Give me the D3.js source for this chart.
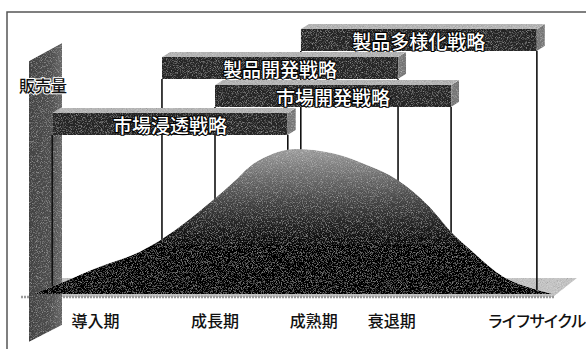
<!DOCTYPE html>
<html>
<head>
<meta charset="utf-8">
<script src="https://cdn.jsdelivr.net/npm/d3@7.8.5/dist/d3.min.js"></script>
<style>
  html, body { margin: 0; padding: 0; background: #fff; }
  svg { display: block; font-family: "Noto Sans CJK JP", sans-serif; }
</style>
</head>
<body>
<div id="chart"></div>
<script>
// Life cycle stages (x positions on a 0-100 life cycle axis)
const stages = ['導入期', '成長期', '成熟期', '衰退期', 'ライフサイクル'];
const stagePos = [12, 35, 54, 69, 96.7];

// Strategy bands: start / end on the life cycle axis, and stacking level
const strategies = ['市場浸透戦略', '製品開発戦略', '市場開発戦略', '製品多様化戦略'];
const strategyStart = [3.7, 24.8, 35, 51.5];
const strategyEnd = [49, 70.2, 80.4, 96.9];
const strategyLevel = [1, 3, 2, 4];

// Sales curve
const curveX = [0, 5.6, 12.9, 19.2, 24.8, 35, 38.5, 41.7, 45, 50.4, 57.7, 64.2, 70, 76.3, 80.4, 84, 90.4, 96.9, 100];
const curveSales = [0, 8, 19, 27, 38, 66, 77, 88, 95, 100, 97, 89, 79, 60, 43, 31, 12, 3, 0];

const yLabel = '販売量';

class LifeCycleChart {
    constructor(containerId) {
        this.container = d3.select(`#${containerId}`);
        this.width = 586;
        this.height = 349;
        this.boxH = 22;
        this.depth = { dx: 8, dy: 5 };
        this.init();
    }

    init() {
        const svg = this.container.append('svg')
            .attr('width', this.width)
            .attr('height', this.height);
        this.svg = svg;

        const x = d3.scaleLinear().domain([0, 100]).range([33, 553]);
        const y = d3.scaleLinear().domain([0, 100]).range([294, 149]);
        const level = d3.scaleLinear().domain([1, 4]).range([113, 29]);

        this.defs(svg);

        // Frame
        svg.append('path')
            .attr('d', `M7,${this.height} V12 H${this.width}`)
            .style('fill', 'none')
            .style('stroke', '#555')
            .style('stroke-width', 1.5);

        // Floor
        const x0 = x.range()[0] - 4, x1 = x.range()[1];
        svg.append('polygon')
            .attr('points', [[x0, 297], [x1, 297], [x1 + 24, 278], [x0 + 33, 278]].join(' '))
            .style('fill', '#c4c4c4')
            .attr('filter', 'url(#grain)');
        svg.append('line')
            .attr('x1', x0 - 8).attr('x2', x1 + 2)
            .attr('y1', 297).attr('y2', 297)
            .style('stroke', '#9a9a9a')
            .style('stroke-width', 2.5)
            .style('stroke-dasharray', '2,1');

        // Sales axis wall
        svg.append('polygon')
            .attr('points', [[x0, 61], [x0 + 33, 43], [x0 + 33, 325], [x0, 342]].join(' '))
            .style('fill', 'url(#wallGrad)')
            .attr('filter', 'url(#grain)');

        svg.append('text')
            .attr('x', 43).attr('y', 85)
            .attr('text-anchor', 'middle')
            .attr('dominant-baseline', 'central')
            .style('font-size', '16px')
            .style('font-weight', 500)
            .style('fill', '#111')
            .style('stroke', '#fff')
            .style('stroke-width', 2)
            .style('paint-order', 'stroke')
            .text(yLabel);

        // Drop lines from strategy bands
        const bands = strategies.map((name, i) => ({
            name, start: strategyStart[i], end: strategyEnd[i], level: strategyLevel[i]
        }));
        bands.forEach(b => {
            [b.start, b.end].forEach(v => {
                svg.append('line')
                    .attr('x1', x(v)).attr('x2', x(v))
                    .attr('y1', level(b.level) + this.boxH)
                    .attr('y2', y(0) - 1)
                    .style('stroke', '#111')
                    .style('stroke-width', 1.6);
            });
        });

        // Sales curve
        const pts = curveX.map((d, i) => [d, curveSales[i]]);
        const area = d3.area()
            .x(d => x(d[0]))
            .y0(y(0))
            .y1(d => y(d[1]))
            .curve(d3.curveMonotoneX);
        svg.append('path')
            .datum(pts)
            .attr('d', area)
            .style('fill', 'url(#curveGrad)')
            .attr('filter', 'url(#grain)');

        // Strategy boxes, back to front
        const { dx, dy } = this.depth;
        const order = bands.slice().sort((a, b) => b.level - a.level);
        order.forEach(b => {
            const xa = x(b.start), xb = x(b.end);
            const top = level(b.level), bot = top + this.boxH;
            const g = svg.append('g');
            g.append('polygon')
                .attr('points', [[xa, top], [xa + dx, top - dy], [xb + dx, top - dy], [xb, top]].join(' '))
                .style('fill', '#b5b5b5')
                .attr('filter', 'url(#grain)');
            g.append('polygon')
                .attr('points', [[xb, top], [xb + dx, top - dy], [xb + dx, bot - dy], [xb, bot]].join(' '))
                .style('fill', '#7a7a7a')
                .attr('filter', 'url(#grain)');
            g.append('rect')
                .attr('x', xa).attr('y', top)
                .attr('width', xb - xa).attr('height', this.boxH)
                .style('fill', '#262626')
                .attr('filter', 'url(#grain)');
            g.append('text')
                .attr('x', (xa + xb) / 2)
                .attr('y', top + this.boxH / 2)
                .attr('text-anchor', 'middle')
                .attr('dominant-baseline', 'central')
                .style('font-size', '19px')
                .style('font-weight', 500)
                .style('fill', '#fff')
                .style('stroke', '#000')
                .style('stroke-width', 2)
                .style('paint-order', 'stroke')
                .text(b.name);
        });

        // Stage labels
        svg.selectAll('.stage')
            .data(stages)
            .enter()
            .append('text')
            .attr('class', 'stage')
            .attr('x', (d, i) => x(stagePos[i]))
            .attr('y', 320)
            .attr('text-anchor', 'middle')
            .attr('dominant-baseline', 'central')
            .style('font-size', '16px')
            .style('font-weight', 500)
            .style('letter-spacing', d => d.length > 3 ? '-2px' : '0px')
            .style('fill', '#111')
            .text(d => d);
    }

    defs(svg) {
        const defs = svg.append('defs');

        const cg = defs.append('linearGradient')
            .attr('id', 'curveGrad')
            .attr('gradientUnits', 'userSpaceOnUse')
            .attr('x1', 0).attr('x2', 0)
            .attr('y1', 149).attr('y2', 270);
        cg.append('stop').attr('offset', 0).attr('stop-color', '#a0a0a0');
        cg.append('stop').attr('offset', 0.45).attr('stop-color', '#444');
        cg.append('stop').attr('offset', 0.8).attr('stop-color', '#050505');
        cg.append('stop').attr('offset', 1).attr('stop-color', '#000');

        const wg = defs.append('linearGradient')
            .attr('id', 'wallGrad')
            .attr('x1', 0).attr('x2', 1).attr('y1', 0).attr('y2', 0);
        wg.append('stop').attr('offset', 0).attr('stop-color', '#444');
        wg.append('stop').attr('offset', 0.65).attr('stop-color', '#505050');
        wg.append('stop').attr('offset', 1).attr('stop-color', '#6a6a6a');

        // Halftone-like grain
        const f = defs.append('filter')
            .attr('id', 'grain')
            .attr('x', 0).attr('y', 0).attr('width', 1).attr('height', 1);
        f.append('feTurbulence')
            .attr('type', 'fractalNoise')
            .attr('baseFrequency', 1.2)
            .attr('numOctaves', 1)
            .attr('seed', 4)
            .attr('result', 'noise');
        f.append('feColorMatrix')
            .attr('in', 'noise')
            .attr('type', 'saturate')
            .attr('values', 0)
            .attr('result', 'gray');
        f.append('feBlend')
            .attr('in', 'SourceGraphic')
            .attr('in2', 'gray')
            .attr('mode', 'overlay')
            .attr('result', 'mix');
        f.append('feComposite')
            .attr('in', 'mix')
            .attr('in2', 'SourceGraphic')
            .attr('operator', 'in');
    }
}

new LifeCycleChart('chart');
</script>
</body>
</html>
